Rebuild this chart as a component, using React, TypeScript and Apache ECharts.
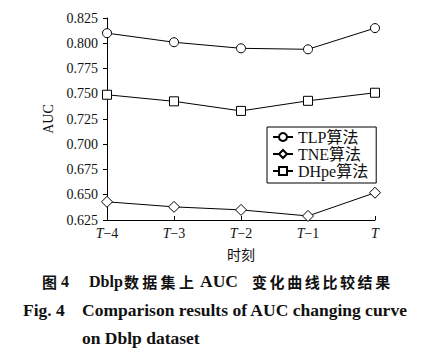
import React, { useEffect, useRef } from "react";
import * as echarts from "echarts";

const categories = ["T−4", "T−3", "T−2", "T−1", "T"];
const seriesNames = ["TLP算法", "TNE算法", "DHpe算法"];
const tlpValues = [0.81, 0.801, 0.795, 0.794, 0.815];
const tneValues = [0.643, 0.638, 0.635, 0.629, 0.652];
const dhpeValues = [0.749, 0.7425, 0.733, 0.743, 0.751];
const yTicks = { min: 0.625, max: 0.825, interval: 0.025 };

const SERIF = "Liberation Serif, Noto Sans CJK SC, serif";
const CJK = "Noto Sans CJK SC, sans-serif";

export default function App() {
  const ref = useRef<HTMLDivElement>(null);
  useEffect(() => {
    if (!ref.current) return;
    const chart = echarts.init(ref.current, undefined, { renderer: "svg" });
    const mk = (name: string, data: number[], symbol: string) => ({
      name,
      type: "line",
      data,
      symbol,
      symbolSize: symbol === "diamond" ? 11 : 9,
      showSymbol: true,
      lineStyle: { color: "#000", width: 1 },
      itemStyle: { color: "#fff", borderColor: "#000", borderWidth: 1 },
    });
    const t = (left: number, top: number, text: string, font: string) => ({
      type: "text",
      left,
      top,
      style: { text, font, fill: "#111" },
    });
    const capA = ["数", "据", "集", "上"];
    const capB = ["变", "化", "曲", "线", "比", "较", "结", "果"];
    const graphics: any[] = [
      t(42, 274, "图", `bold 15px ${CJK}`),
      t(61, 273, "4", `bold 16px ${SERIF}`),
      t(89, 273, "Dblp", `bold 16px ${SERIF}`),
      ...capA.map((c, i) => t(124 + i * 18.3, 274, c, `bold 15px ${CJK}`)),
      t(200, 272, "AUC", `bold 17.5px ${SERIF}`),
      ...capB.map((c, i) => t(252 + i * 17.6, 274, c, `bold 15px ${CJK}`)),
      t(23, 301, "Fig. 4", `bold 17.5px ${SERIF}`),
      t(82, 301, "Comparison results of AUC changing curve", `bold 17.5px ${SERIF}`),
      t(82, 329, "on Dblp dataset", `bold 17.5px ${SERIF}`),
    ];
    chart.setOption({
      animation: false,
      backgroundColor: "#fff",
      grid: { left: 107, right: 52, top: 18, bottom: 134, containLabel: false },
      legend: {
        orient: "vertical",
        left: 267,
        top: 127,
        data: seriesNames,
        itemWidth: 20,
        itemHeight: 10,
        itemGap: 1,
        padding: [2, 8, 4, 5],
        borderColor: "#000",
        borderWidth: 1,
        backgroundColor: "#fff",
        textStyle: { fontFamily: SERIF, fontSize: 16, color: "#111", lineHeight: 14, padding: [0, 0, 0, 0] },
      },
      xAxis: {
        type: "category",
        data: categories,
        boundaryGap: false,
        name: "时刻",
        nameLocation: "middle",
        nameGap: 27,
        nameTextStyle: { fontFamily: CJK, fontSize: 14, color: "#111" },
        axisLine: { lineStyle: { color: "#000", width: 1 } },
        axisTick: { inside: true, length: 4, lineStyle: { color: "#000" } },
        axisLabel: {
          margin: 7,
          fontFamily: SERIF,
          fontSize: 14,
          lineHeight: 12,
          color: "#111",
          formatter: (v: string) => (v.startsWith("T") ? "{i|T}" + v.slice(1) : v),
          rich: { i: { fontStyle: "italic", fontFamily: SERIF, fontSize: 14, lineHeight: 12, color: "#111" } },
        },
        splitLine: { show: false },
      },
      yAxis: {
        type: "value",
        min: yTicks.min,
        max: yTicks.max,
        interval: yTicks.interval,
        name: "AUC",
        nameLocation: "middle",
        nameGap: 49,
        nameTextStyle: { fontFamily: SERIF, fontSize: 14, color: "#111" },
        axisLine: { show: true, lineStyle: { color: "#000", width: 1 } },
        axisTick: { show: true, inside: false, length: 4, lineStyle: { color: "#000" } },
        axisLabel: {
          margin: 9,
          fontFamily: SERIF,
          fontSize: 14,
          lineHeight: 12,
          color: "#111",
          formatter: (v: number) => v.toFixed(3),
        },
        splitLine: { show: false },
      },
      series: [mk(seriesNames[0], tlpValues, "circle"), mk(seriesNames[1], tneValues, "diamond"), mk(seriesNames[2], dhpeValues, "rect")],
      graphic: graphics,
    });
    return () => chart.dispose();
  }, []);
  return <div ref={ref} style={{ position: "absolute", left: 0, top: 0, width: 427, height: 354 }} />;
}
